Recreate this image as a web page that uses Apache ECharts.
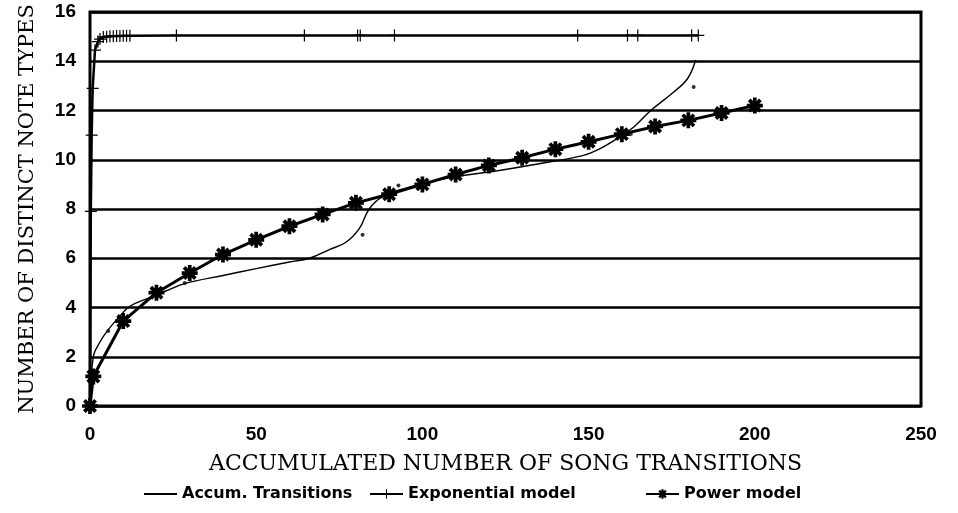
<!DOCTYPE html>
<html>
<head>
<meta charset="utf-8">
<script src="https://cdn.jsdelivr.net/npm/echarts@6/dist/echarts.min.js"></script>
<style>
  html, body { margin: 0; padding: 0; background: #fff; }
  #chart { width: 958px; height: 513px; }
</style>
</head>
<body>
<div id="chart"></div>
<script>
// values
var seriesNames = ['Accum. Transitions', 'Exponential model', 'Power model'];

var accumTransitions = [
  [0, 0], [1, 2.0], [3, 2.6], [5.5, 3.1], [9, 3.65], [12, 4.05], [18, 4.4],
  [23, 4.68], [28.5, 4.97], [40, 5.3], [50, 5.58], [60, 5.85], [66, 6.0],
  [72, 6.35], [77, 6.65], [81, 7.2], [84, 8.0], [88, 8.5], [95, 8.85],
  [102, 9.08], [109, 9.3], [120, 9.5], [135.5, 9.85], [148.5, 10.18],
  [153, 10.42], [159.6, 10.95], [163.6, 11.33], [168.7, 12.0],
  [175.6, 12.75], [179.8, 13.3], [182.2, 14.05]
];

// loose data dots printed next to the accumulated curve
var accumDots = [
  [5.5, 3.05], [28.5, 5.0], [82, 6.95], [92.8, 8.95], [162.7, 11.05], [181.6, 12.95]
];

var exponentialModel = [
  [0, 0], [0.25, 7.9], [0.5, 11.0], [0.8, 12.9], [1.5, 14.45], [2.4, 14.8],
  [3, 14.9], [4, 14.98], [5, 15.0], [6, 15.02], [7, 15.02], [8, 15.03],
  [9, 15.03], [10, 15.04], [11, 15.04], [12, 15.04], [26, 15.05],
  [64.5, 15.05], [80.5, 15.05], [81.3, 15.05], [91.6, 15.05], [146.7, 15.05],
  [161.7, 15.05], [164.8, 15.05], [181, 15.05], [183, 15.05]
];

var powerModel = [
  [0, 0], [1, 1.2], [10, 3.45], [20, 4.6], [30, 5.4], [40, 6.15], [50, 6.75],
  [60, 7.3], [70, 7.78], [80, 8.25], [90, 8.6], [100, 9.0], [110, 9.4],
  [120, 9.77], [130, 10.08], [140, 10.43], [150, 10.73], [160, 11.04],
  [170, 11.35], [180, 11.6], [190, 11.9], [200, 12.2]
];

var plusSymbol = 'path://M9,0h2v9h9v2h-9v9h-2v-9h-9v-2h9z';
var starSymbol = 'path://M-1.4,-6L1.4,-6L1.4,6L-1.4,6Z M-6,-1.4L6,-1.4L6,1.4L-6,1.4Z ' +
  'M-3.25,-5.23L5.23,3.25L3.25,5.23L-5.23,-3.25Z ' +
  'M-5.23,3.25L3.25,-5.23L5.23,-3.25L-3.25,5.23Z';

var legendText = {
  fontFamily: 'DejaVu Sans',
  fontWeight: 'bold',
  fontSize: 16,
  color: '#000'
};
function legendAt(left, item) {
  return {
    data: [item],
    bottom: 6,
    left: left,
    itemWidth: 33,
    itemHeight: 12,
    itemGap: 5,
    textStyle: legendText
  };
}

var chart = echarts.init(document.getElementById('chart'));
chart.setOption({
  backgroundColor: '#fff',
  animation: false,
  grid: {
    left: 90,
    right: 37,
    top: 12,
    bottom: 107,
    show: true,
    borderColor: '#000',
    borderWidth: 3,
    backgroundColor: 'transparent'
  },
  legend: [
    legendAt(138, { name: seriesNames[0], itemStyle: { opacity: 0 } }),
    legendAt(364, { name: seriesNames[1] }),
    legendAt(640, { name: seriesNames[2] })
  ],
  xAxis: {
    type: 'value',
    min: 0,
    max: 250,
    interval: 50,
    name: 'ACCUMULATED NUMBER OF SONG TRANSITIONS',
    nameLocation: 'middle',
    nameGap: 47,
    nameTextStyle: {
      fontFamily: 'DejaVu Serif',
      fontSize: 22,
      color: '#000'
    },
    axisLine: { show: false },
    axisTick: { show: false },
    splitLine: { show: false },
    axisLabel: {
      margin: 19,
      fontFamily: 'Liberation Sans',
      fontWeight: 'bold',
      fontSize: 19,
      color: '#000'
    }
  },
  yAxis: {
    type: 'value',
    min: 0,
    max: 16,
    interval: 2,
    name: 'NUMBER OF DISTINCT NOTE TYPES',
    nameLocation: 'middle',
    nameGap: 52,
    nameTextStyle: {
      fontFamily: 'DejaVu Serif',
      fontSize: 21,
      color: '#000'
    },
    axisLine: { show: false },
    axisTick: { show: false },
    splitLine: { lineStyle: { color: '#000', width: 2.5 } },
    axisLabel: {
      margin: 14,
      fontFamily: 'Liberation Sans',
      fontWeight: 'bold',
      fontSize: 19,
      color: '#000'
    }
  },
  series: [
    {
      name: seriesNames[0],
      type: 'line',
      data: accumTransitions,
      smooth: 0.4,
      symbol: 'none',
      lineStyle: { color: '#000', width: 1.4 },
      itemStyle: { color: '#000' },
      z: 3
    },
    {
      name: seriesNames[1],
      type: 'line',
      data: exponentialModel,
      symbol: plusSymbol,
      symbolSize: 12,
      lineStyle: { color: '#000', width: 2.5 },
      itemStyle: { color: '#000' },
      z: 4
    },
    {
      name: seriesNames[2],
      type: 'line',
      data: powerModel,
      symbol: starSymbol,
      symbolSize: 16,
      lineStyle: { color: '#000', width: 3 },
      itemStyle: { color: '#000' },
      z: 5
    },
    {
      name: 'dots',
      type: 'scatter',
      data: accumDots,
      symbol: 'circle',
      symbolSize: 4,
      itemStyle: { color: '#000' },
      z: 3
    }
  ]
});
</script>
</body>
</html>
